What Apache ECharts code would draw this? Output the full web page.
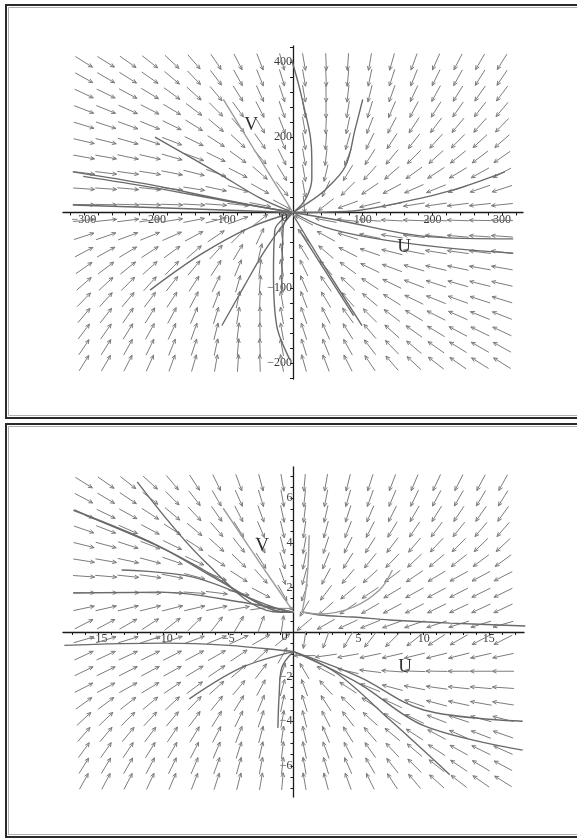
<!DOCTYPE html>
<html>
<head>
<meta charset="utf-8">
<script src="https://cdn.jsdelivr.net/npm/echarts@6/dist/echarts.min.js"></script>
<style>
html, body { margin: 0; padding: 0; background: #fff; }
#main { width: 577px; height: 838px; }
</style>
</head>
<body>
<div id="main"></div>
<script>
// ---- top plot: arrow grid (v in plot units, positive half labelled x2) ----
var uTop = [-300,-268.4,-236.8,-205.3,-173.7,-142.1,-110.5,-78.9,-47.4,-15.8,15.8,47.4,78.9,110.5,142.1,173.7,205.3,236.8,268.4,300];
var vTop = [200,178.9,157.9,136.8,115.8,94.7,73.7,52.6,31.6,10.5,-10.5,-31.6,-52.6,-73.7,-94.7,-115.8,-136.8,-157.9,-178.9,-200];
// arrow direction in degrees (0 = right, 90 = up), one row per v value
var angTop = [
  [-32,-32,-35,-38,-43,-49,-56,-63,-69,-74,-80,-88,-94,-100,-106,-110,-114,-117,-120,-122],
  [-29,-30,-32,-35,-40,-46,-53,-61,-68,-73,-80,-88,-95,-102,-108,-112,-116,-119,-122,-124],
  [-25,-26,-28,-31,-36,-42,-50,-58,-66,-72,-80,-89,-97,-104,-110,-115,-119,-122,-125,-127],
  [-21,-22,-24,-27,-31,-37,-45,-54,-63,-71,-80,-90,-99,-107,-113,-118,-122,-125,-128,-130],
  [-17,-18,-20,-22,-26,-32,-40,-49,-59,-69,-80,-92,-102,-111,-118,-123,-127,-130,-132,-134],
  [-13,-14,-16,-18,-21,-26,-33,-43,-55,-67,-80,-94,-106,-116,-123,-128,-132,-135,-137,-139],
  [-10,-10,-12,-13,-16,-20,-26,-36,-49,-64,-80,-97,-112,-123,-130,-135,-138,-141,-143,-145],
  [-7,-7,-8,-9,-11,-14,-19,-27,-41,-59,-80,-103,-121,-132,-139,-144,-147,-149,-151,-152],
  [-4,-4,-5,-6,-7,-9,-12,-17,-29,-50,-80,-115,-135,-146,-152,-156,-158,-160,-161,-162],
  [-1,-1,-2,-2,-2,-3,-4,-6,-11,-28,-85,-142,-160,-166,-169,-171,-172,-173,-174,-174],
  [6,6,7,8,9,11,14,20,38,95,152,169,174,176,177,178,178,178,179,179],
  [18,19,20,22,24,28,34,45,65,100,130,151,163,168,171,173,174,175,176,176],
  [28,29,31,33,36,41,48,59,77,100,121,139,153,161,166,169,171,172,173,173],
  [35,37,39,42,45,50,57,68,83,100,116,131,144,154,160,164,167,168,170,170],
  [41,43,45,48,52,57,64,74,86,100,113,125,137,147,154,159,162,164,166,167],
  [46,48,50,53,57,62,69,78,88,100,111,121,131,140,148,154,158,160,162,163],
  [50,52,55,58,62,67,73,81,90,100,109,117,126,135,143,149,153,156,158,159],
  [53,55,58,61,65,70,76,83,91,100,108,114,122,130,138,144,149,152,154,155],
  [56,58,61,64,68,72,78,85,92,100,107,112,119,127,134,140,145,148,150,151],
  [58,60,63,66,70,74,80,86,92,100,106,111,117,124,131,137,142,145,148,148]
];
var xTopTicks = [-320,-300,-280,-260,-240,-220,-200,-180,-160,-140,-120,-100,-80,-60,-40,-20,0,20,40,60,80,100,120,140,160,180,200,220,240,260,280,300,320];
var xTopLabels = [-300,-200,-100,100,200,300];
var yTopTicks = [-220,-200,-180,-160,-140,-120,-100,-80,-60,-40,-20,0,20,40,60,80,100,120,140,160,180,200,220];
var yTopLabels = [-200,-100,100,200];
var yTopLabelText = {'-200': '\u2212200', '-100': '\u2212100', '100': '200', '200': '400'};

// solution curves, top plot
var curveTop = [
  [[-2,203],[8,170],[17,135],[25,100],[27,70],[27,45],[22,25],[12,10],[0,0]],
  [[100,150],[89,110],[75,61],[46,30],[17,10],[0,0]],
  [[304,54],[230,30],[154,13],[96,3],[39,0.3],[0,0]],
  [[0,0],[44,-19],[115,-34],[211,-46],[316,-54]],
  [[0,0],[63,-10],[194,-32],[316,-35]],
  [[0,-3],[44,-70],[99,-150]],
  [[10,-25],[87,-137]],
  [[-2,-1],[-26,-23],[-28,-81],[-23,-152],[-4,-196]],
  [[0,0],[-14,-19],[-16,-107]],
  [[-205,-103],[-133,-56],[-62,-20],[0,0]],
  [[-102,-150],[-69,-96],[-40,-50],[-11,-12],[0,0]],
  [[-198,100],[-109,53],[-47,19],[0,0]],
  [[-316,54],[-205,37],[-105,18],[0,0]],
  [[-301,48],[-200,33],[-100,16],[0,0]],
  [[-316,10],[-150,5],[0,0]]
];
var curveTopLight = [
  [[-100,150],[-50,75],[0,0]]
];

// ---- bottom plot ----
var uBot = [-16.1,-14.4,-12.7,-11.0,-9.3,-7.6,-5.9,-4.2,-2.5,-0.85,0.85,2.5,4.2,5.9,7.6,9.3,11.0,12.7,14.4,16.1];
var vBot = [6.7,6.0,5.3,4.6,3.9,3.2,2.5,1.76,1.06,0.35,-0.35,-1.06,-1.76,-2.5,-3.2,-3.9,-4.6,-5.3,-6.0,-6.7];
var angBot = [
  [-32,-35,-38,-42,-50,-57,-64,-70,-75,-80,-95,-100,-104,-108,-111,-113,-115,-117,-118,-119],
  [-28,-31,-34,-38,-45,-52,-60,-66,-73,-80,-96,-101,-106,-110,-113,-116,-118,-120,-121,-122],
  [-24,-26,-29,-33,-40,-47,-55,-63,-70,-78,-97,-103,-108,-113,-117,-120,-122,-124,-125,-126],
  [-19,-21,-24,-28,-33,-40,-49,-58,-67,-77,-98,-105,-111,-117,-121,-124,-127,-129,-130,-131],
  [-14,-15,-18,-21,-26,-33,-42,-52,-63,-76,-100,-108,-116,-122,-127,-130,-133,-135,-136,-137],
  [-9,-10,-12,-15,-19,-25,-33,-44,-57,-73,-102,-112,-122,-129,-134,-137,-140,-142,-143,-144],
  [-4,-5,-6,-8,-11,-15,-22,-33,-48,-70,-105,-118,-130,-138,-143,-146,-149,-151,-152,-153],
  [0,0,0,-1,-2,-4,-7,-13,-28,-60,-110,-127,-140,-146,-149,-151,-152,-153,-154,-154],
  [12,13,14,14,14,13,12,10,8,0,-120,-138,-146,-150,-152,-153,-154,-155,-155,-155],
  [27,28,30,33,38,45,52,60,70,82,-140,-150,-155,-158,-160,-161,-162,-163,-163,-164],
  [16,17,17,18,19,20,22,25,30,40,-98,-110,-120,-128,-135,-142,-147,-150,-152,-153],
  [25,25,25,26,27,28,30,34,42,60,180,-172,-170,-168,-167,-166,-166,-166,-167,-168],
  [26,26,27,28,29,31,34,40,53,70,120,152,167,173,176,178,179,180,180,180],
  [27,28,29,31,34,37,42,50,62,75,110,132,147,158,165,169,172,174,175,176],
  [36,37,38,40,43,46,51,58,68,78,107,123,136,147,155,161,165,168,170,171],
  [43,44,45,47,50,53,58,64,72,80,104,117,128,138,147,154,159,162,165,166],
  [49,50,51,53,56,59,63,69,75,82,103,113,122,131,140,147,152,156,159,161],
  [54,55,56,58,60,63,67,72,77,83,102,110,117,125,133,140,147,151,154,156],
  [58,59,60,62,64,67,70,74,79,84,100,107,114,120,128,135,142,146,149,152],
  [61,62,63,65,67,69,72,76,80,85,100,105,110,116,123,130,138,142,145,148]
];
var xBotTicks = [-17,-16,-15,-14,-13,-12,-11,-10,-9,-8,-7,-6,-5,-4,-3,-2,-1,0,1,2,3,4,5,6,7,8,9,10,11,12,13,14,15,16,17];
var xBotLabels = [-15,-10,-5,5,10,15];
var yBotTicks = [-7,-6.5,-6,-5.5,-5,-4.5,-4,-3.5,-3,-2.5,-2,-1.5,-1,-0.5,0,0.5,1,1.5,2,2.5,3,3.5,4,4.5,5,5.5,6,6.5,7];
var yBotLabels = [-6,-4,-2,2,4,6];

var curveBot = [
  [[-12.0,6.73],[-6.9,3.22],[-1.55,0.91],[0,0.88]],
  [[-16.0,5.24],[-10.2,3.8],[-6.9,2.78],[-1.6,0.99],[0,0.88]],
  [[-16.9,5.46],[-10.5,3.9],[-6.0,2.4],[-1.6,1.0],[0,0.88]],
  [[-13.2,2.78],[-7.7,2.46],[-1.6,1.12],[0,0.88]],
  [[-16.9,1.75],[-10.2,1.79],[-3.6,1.3],[0,0.88]],
  [[0.65,0.9],[2.0,0.76],[4.6,0.67],[7.4,0.54],[12,0.4],[17.8,0.27]],
  [[0,-0.88],[3.3,-1.84],[7.4,-3.94],[12,-6.4]],
  [[0,-0.88],[5,-2.0],[10,-3.5],[17.6,-4.0]],
  [[0,-0.88],[5,-2.3],[10,-4.2],[17.6,-5.3]],
  [[-17.6,-0.6],[-10,-0.5],[-5,-0.6],[0,-0.88]],
  [[-8,-3],[-4,-1.6],[0,-0.88]],
  [[-1.2,-4.3],[-1.1,-2.8],[-0.9,-1.6],[0,-0.88]]
];
var curveBotLight = [
  [[-5.4,5.55],[-2.7,3.2],[0,0.9]],
  [[1.2,4.34],[1.1,2.8],[0.9,1.66],[0.65,0.9]],
  [[0.65,0.9],[2.0,0.81],[4.6,1.12],[6.6,1.88],[7.6,2.78]]
];

var ARROW_COLOR = '#7c7c7c';
var CURVE_COLOR = '#6a6a6a';
var CURVE_LIGHT = '#9c9c9c';
var AXIS_COLOR = '#1a1a1a';
var LABEL_FONT = 'Liberation Serif';
var LABEL_SIZE = 12;

function fieldData(us, vs, ang) {
  var out = [];
  for (var j = 0; j < vs.length; j++) {
    for (var i = 0; i < us.length; i++) {
      out.push([us[i], vs[j], ang[j][i]]);
    }
  }
  return out;
}

// arrows keep a fixed size relative to the grid cell
var RX = 10.8, RY = 8.6, HEAD = 4.5;
function renderArrow(params, api) {
  var p = api.coord([api.value(0), api.value(1)]);
  var a = api.value(2) * Math.PI / 180;
  var c = Math.cos(a), s = Math.sin(a);
  var h = 1 / Math.sqrt(c * c / (RX * RX) + s * s / (RY * RY));
  var dx = c * h, dy = -s * h;
  var tip = [p[0] + dx, p[1] + dy];
  var t = Math.atan2(dy, dx);
  var b1 = [tip[0] - HEAD * Math.cos(t - 0.42), tip[1] - HEAD * Math.sin(t - 0.42)];
  var b2 = [tip[0] - HEAD * Math.cos(t + 0.42), tip[1] - HEAD * Math.sin(t + 0.42)];
  return {
    type: 'group',
    children: [
      { type: 'line', shape: { x1: p[0] - dx, y1: p[1] - dy, x2: tip[0], y2: tip[1] },
        style: { stroke: ARROW_COLOR, lineWidth: 1 } },
      { type: 'polyline', shape: { points: [b1, tip, b2] },
        style: { stroke: ARROW_COLOR, fill: null, lineWidth: 1 } }
    ]
  };
}

function curveSeries(list, color, width, gi) {
  return list.map(function (pts) {
    return {
      type: 'line', xAxisIndex: gi, yAxisIndex: gi, data: pts,
      showSymbol: false, smooth: 0.35, silent: true, z: 4,
      lineStyle: { color: color, width: width }
    };
  });
}

// axes sit on the zero line of the other axis (moved there with offset)
function axisX(gi, min, max, ticks, labels, off) {
  return {
    type: 'value', gridIndex: gi, min: min, max: max, position: 'bottom', offset: off,
    axisLine: { onZero: false, lineStyle: { color: AXIS_COLOR, width: 1.3 } },
    axisTick: { customValues: ticks, length: 3, lineStyle: { color: AXIS_COLOR } },
    axisLabel: {
      customValues: labels, margin: 1, fontFamily: LABEL_FONT, fontSize: LABEL_SIZE, color: '#3a3a3a',
      formatter: function (v) { return v < 0 ? '\u2212' + (-v) : '' + v; }
    },
    splitLine: { show: false }
  };
}

function axisY(gi, min, max, ticks, labels, fmt, off) {
  return {
    type: 'value', gridIndex: gi, min: min, max: max, position: 'left', offset: off,
    axisLine: { onZero: false, lineStyle: { color: AXIS_COLOR, width: 1.3 } },
    axisTick: { customValues: ticks, length: 3, lineStyle: { color: AXIS_COLOR } },
    axisLabel: {
      customValues: labels, margin: 1, fontFamily: LABEL_FONT, fontSize: LABEL_SIZE, color: '#3a3a3a',
      formatter: fmt
    },
    splitLine: { show: false }
  };
}

var chart = echarts.init(document.getElementById('main'), null, { renderer: 'canvas' });

var series = [
  { type: 'custom', xAxisIndex: 0, yAxisIndex: 0, renderItem: renderArrow,
    data: fieldData(uTop, vTop, angTop), silent: true, z: 2 },
  { type: 'custom', xAxisIndex: 1, yAxisIndex: 1, renderItem: renderArrow,
    data: fieldData(uBot, vBot, angBot), silent: true, z: 2 }
].concat(
  curveSeries(curveTop, CURVE_COLOR, 1.4, 0),
  curveSeries(curveTopLight, CURVE_LIGHT, 1.4, 0),
  curveSeries(curveBot, CURVE_COLOR, 1.4, 1),
  curveSeries(curveBotLight, CURVE_LIGHT, 1.4, 1)
);

function txt(x, y, s, size) {
  return { type: 'text', x: x, y: y, z: 10,
    style: { text: s, font: size + 'px "' + LABEL_FONT + '"', fill: '#333',
      textAlign: 'center', textVerticalAlign: 'middle' } };
}

chart.setOption({
  animation: false,
  backgroundColor: '#fff',
  grid: [
    { left: 63, top: 46, width: 460, height: 333 },
    { left: 63, top: 467, width: 461, height: 330 }
  ],
  xAxis: [
    axisX(0, -330, 330, xTopTicks, xTopLabels, -166.5),
    axisX(1, -17.7, 17.7, xBotTicks, xBotLabels, -165)
  ],
  yAxis: [
    axisY(0, -221, 221, yTopTicks, yTopLabels, function (v) { return yTopLabelText[String(v)] || ''; }, -230),
    axisY(1, -7.4, 7.4, yBotTicks, yBotLabels, function (v) { return v < 0 ? '\u2212' + (-v) : '' + v; }, -230.5)
  ],
  graphic: [
    { type: 'rect', shape: { x: 6, y: 5, width: 620, height: 413 },
      style: { stroke: '#2a2a2a', fill: null, lineWidth: 2 }, z: 20 },
    { type: 'rect', shape: { x: 8.5, y: 7.5, width: 620, height: 408 },
      style: { stroke: '#b0b0b0', fill: null, lineWidth: 1 }, z: 20 },
    { type: 'rect', shape: { x: 6, y: 424, width: 620, height: 413 },
      style: { stroke: '#2a2a2a', fill: null, lineWidth: 2 }, z: 20 },
    { type: 'rect', shape: { x: 8.5, y: 426.5, width: 620, height: 408 },
      style: { stroke: '#b0b0b0', fill: null, lineWidth: 1 }, z: 20 },
    txt(284.5, 218, '0', LABEL_SIZE),
    txt(284.5, 637, '0', LABEL_SIZE),
    txt(251, 125, 'V', 19),
    txt(404, 247, 'U', 19),
    txt(262, 546, 'V', 19),
    txt(405, 667, 'U', 19)
  ],
  series: series
});
</script>
</body>
</html>
